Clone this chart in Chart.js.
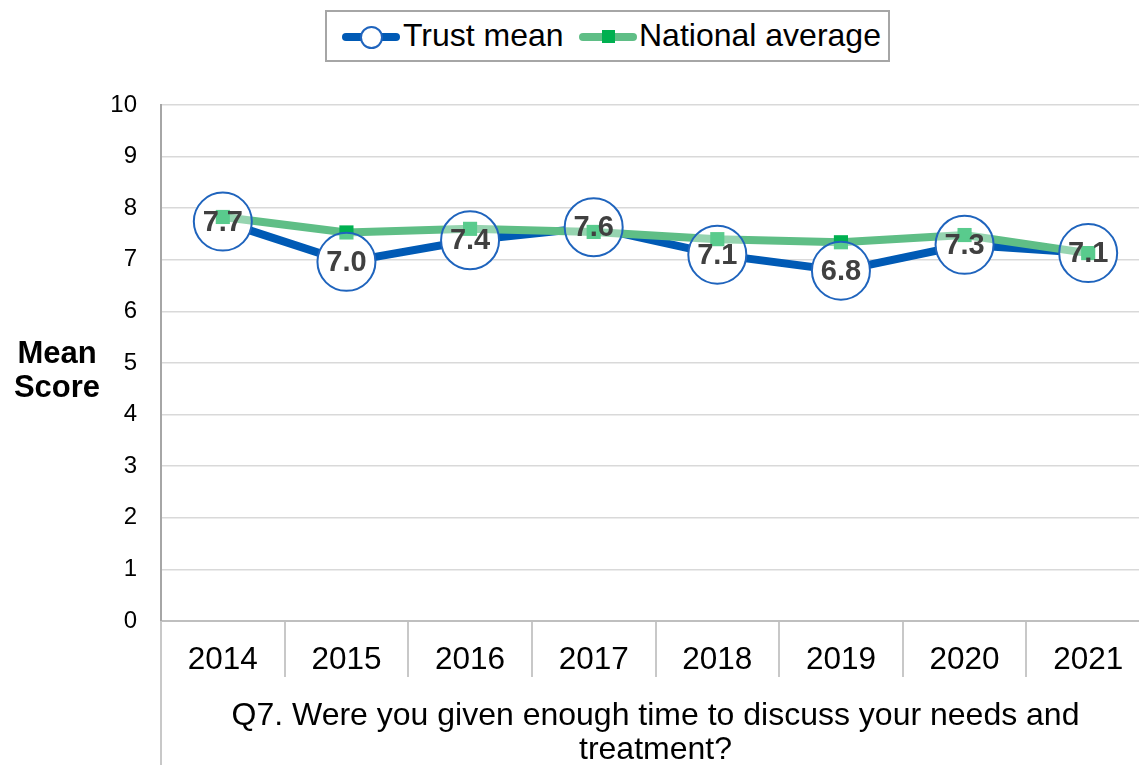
<!DOCTYPE html>
<html>
<head>
<meta charset="utf-8">
<script src="https://cdn.jsdelivr.net/npm/chart.js@4.4.0/dist/chart.umd.min.js"></script>
<style>
  body { margin: 0; overflow: hidden; background: #fff; font-family: "Liberation Sans", Arial, sans-serif; }
  #wrap { position: relative; width: 1150px; height: 765px; }
  #legend { position: absolute; left: 325px; top: 10px; width: 565px; height: 52px; box-sizing: border-box;
            border: 2px solid #a6a6a6; background: #fff; font-size: 32px; color: #000; }
  #legend span { position: absolute; }
  .txt { top: 50%; transform: translateY(-52%); white-space: nowrap; }
</style>
</head>
<body>
<div id="wrap">
  <canvas id="myChart" width="1150" height="765"></canvas>
  <div id="legend">
    <span style="left:15px;top:21px;width:58px;height:8px;background:#005ab5;border-radius:4px"></span>
    <span style="left:33px;top:14px;width:19px;height:19px;border:2px solid #1f64bd;border-radius:50%;background:#fff"></span>
    <span class="txt" style="left:76px">Trust mean</span>
    <span style="left:252px;top:21px;width:58px;height:8px;background:#5fbe86;border-radius:4px"></span>
    <span style="left:275px;top:18px;width:13px;height:13px;background:#00b050"></span>
    <span class="txt" style="left:312px">National average</span>
  </div>
</div>
<script>
const years = ['2014', '2015', '2016', '2017', '2018', '2019', '2020', '2021'];
const trustMean = [7.74, 6.96, 7.38, 7.63, 7.10, 6.79, 7.29, 7.13];
const nationalAverage = [7.83, 7.53, 7.60, 7.54, 7.40, 7.34, 7.48, 7.13];
const yTicks = [0, 1, 2, 3, 4, 5, 6, 7, 8, 9, 10];
const yTitle = ['Mean', 'Score'];
const xTitle = ['Q7. Were you given enough time to discuss your needs and', 'treatment?'];

const FONT = '"Liberation Sans", Arial, sans-serif';
const BLUE = '#005ab5';

// labels, titles and the long left axis line
const extras = {
    id: 'extras',
    afterDatasetsDraw(chart) {
        const ctx = chart.ctx;
        const meta = chart.getDatasetMeta(3);
        ctx.save();
        ctx.font = 'bold 29px ' + FONT;
        ctx.fillStyle = '#404040';
        ctx.textAlign = 'center';
        ctx.textBaseline = 'middle';
        meta.data.forEach((pt, i) => {
            ctx.fillText(trustMean[i].toFixed(1), pt.x, pt.y + 1);
        });
        ctx.restore();
    },
    afterDraw(chart) {
        const ctx = chart.ctx;
        const area = chart.chartArea;
        ctx.save();
        ctx.strokeStyle = '#c8c8c8';
        ctx.lineWidth = 2;
        ctx.beginPath();
        ctx.moveTo(area.left, area.bottom);
        ctx.lineTo(area.left, chart.height);
        ctx.stroke();

        ctx.fillStyle = '#000';
        ctx.textAlign = 'center';
        ctx.textBaseline = 'middle';
        ctx.font = 'bold 31px ' + FONT;
        yTitle.forEach((t, i) => ctx.fillText(t, 57, 354 + i * 34));

        ctx.font = '32px ' + FONT;
        const cx = (area.left + area.right) / 2;
        xTitle.forEach((t, i) => ctx.fillText(t, cx, 716 + i * 34));
        ctx.restore();
    }
};

const ctx = document.getElementById('myChart').getContext('2d');
const myChart = new Chart(ctx, {
    type: 'line',
    data: {
        labels: years,
        datasets: [
            {
                label: 'Trust mean',
                data: trustMean,
                borderColor: BLUE,
                borderWidth: 8,
                pointRadius: 0,
                tension: 0,
                order: 4
            },
            {
                label: 'trust fill',
                data: trustMean,
                showLine: false,
                pointRadius: 28.5,
                pointBackgroundColor: '#ffffff',
                pointBorderWidth: 0,
                order: 3
            },
            {
                label: 'National average',
                data: nationalAverage,
                borderColor: '#5fbe86',
                borderWidth: 8,
                pointStyle: 'rect',
                pointRadius: 10,
                pointBackgroundColor: '#00b050',
                pointBorderWidth: 0,
                tension: 0,
                order: 2
            },
            {
                label: 'trust ring',
                data: trustMean,
                showLine: false,
                pointRadius: 29,
                pointBackgroundColor: 'rgba(255,255,255,0.35)',
                pointBorderColor: '#1f64bd',
                pointBorderWidth: 2,
                order: 1
            }
        ]
    },
    options: {
        responsive: false,
        animation: false,
        layout: { autoPadding: false, padding: { top: 105, left: 0, right: 0, bottom: 0 } },
        plugins: {
            legend: { display: false },
            tooltip: { enabled: false }
        },
        scales: {
            x: {
                offset: true,
                grid: {
                    offset: true,
                    drawOnChartArea: false,
                    drawTicks: true,
                    tickLength: 56,
                    color: '#c8c8c8',
                    lineWidth: 2
                },
                border: { color: '#bfbfbf', width: 2 },
                ticks: {
                    color: '#000',
                    font: { family: FONT, size: 31.5 },
                    padding: -36,
                    maxRotation: 0
                },
                afterFit(scale) {
                    scale.height = 144;
                    scale.paddingLeft = 0;
                    scale.paddingRight = 0;
                }
            },
            y: {
                min: 0,
                max: 10,
                afterBuildTicks(scale) { scale.ticks = yTicks.map(v => ({ value: v })); },
                grid: { color: '#d9d9d9', lineWidth: 1.5, drawTicks: false },
                border: { color: '#a6a6a6', width: 2 },
                ticks: {
                    color: '#000',
                    font: { family: FONT, size: 24 },
                    padding: 24
                },
                afterFit(scale) {
                    scale.width = 161;
                    scale.paddingTop = 0;
                    scale.paddingBottom = 0;
                }
            }
        }
    },
    plugins: [extras]
});
</script>
</body>
</html>
